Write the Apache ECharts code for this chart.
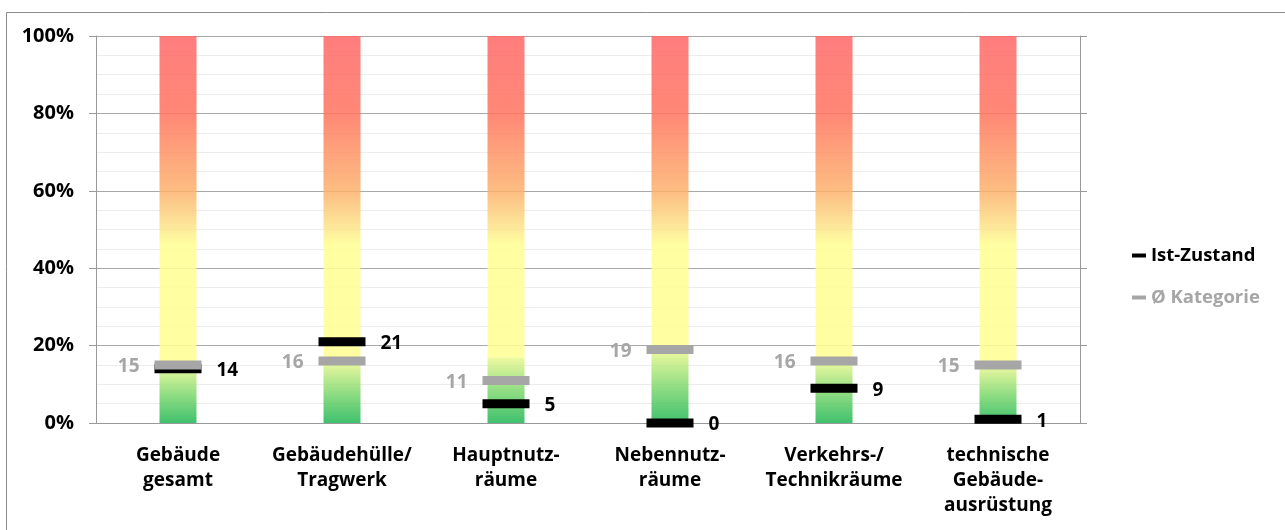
<!DOCTYPE html>
<html>
<head>
<meta charset="utf-8">
<script src="https://cdn.jsdelivr.net/npm/echarts@6/dist/echarts.min.js"></script>
<style>
  html, body { margin: 0; padding: 0; background: #fff; }
  #chart { width: 1285px; height: 530px; }
</style>
</head>
<body>
<div id="chart"></div>
<script>
// Kategorien (x-Achse)
const categories = [
  'Gebäude\ngesamt',
  'Gebäudehülle/\nTragwerk',
  'Hauptnutz-\nräume',
  'Nebennutz-\nräume',
  'Verkehrs-/\nTechnikräume',
  'technische\nGebäude-\nausrüstung'
]
// Ist-Zustand und Durchschnitt der Kategorie in %
const istZustand = [14, 21, 5, 0, 9, 1]
const katDurchschnitt = [15, 16, 11, 19, 16, 15]
// Farbband: grün bis greenTop, gelb bis yellowTop, dann bis 100 rot
const greenTop = [15, 16, 17, 19, 16, 15]
const yellowTop = [46, 46, 46, 46, 46, 46]
const yTicks = [0, 20, 40, 60, 80, 100]

const font = 'Open Sans'
const grey = '#a6a6a6'

const greenPart = greenTop
const yellowPart = yellowTop.map((v, i) => v - greenTop[i])
const redPart = yellowTop.map(v => 100 - v)

const chart = echarts.init(document.getElementById('chart'))

const barBase = {
  type: 'bar',
  stack: 'band',
  barWidth: 37,
  silent: true,
  z: 2
}

const option = {
  animation: false,
  textStyle: { fontFamily: font },
  graphic: [
    {
      type: 'rect',
      shape: { x: 6.5, y: 12.5, width: 1300, height: 560 },
      style: { fill: 'none', stroke: '#8c8c8c', lineWidth: 1 },
      silent: true
    }
  ],
  grid: { left: 96, top: 36, right: 205, bottom: 107 },
  legend: {
    orient: 'vertical',
    left: 1127,
    top: 241,
    itemGap: 23,
    itemWidth: 14,
    itemHeight: 4,
    icon: 'rect',
    textStyle: { fontFamily: font, fontSize: 18.5, fontWeight: 'bold' },
    data: [
      { name: 'Ist-Zustand', textStyle: { color: '#000' } },
      { name: 'Ø Kategorie', textStyle: { color: grey } }
    ]
  },
  xAxis: {
    type: 'category',
    data: categories,
    axisLine: { lineStyle: { color: '#999', width: 1 } },
    axisTick: { length: 7, lineStyle: { color: '#999' } },
    axisLabel: {
      color: '#000',
      fontFamily: font,
      fontSize: 19,
      fontWeight: 'bold',
      lineHeight: 25,
      margin: 20,
      interval: 0
    }
  },
  yAxis: [
    {
      type: 'value',
      min: yTicks[0],
      max: yTicks[yTicks.length - 1],
      interval: 20,
      axisLine: { show: true, lineStyle: { color: '#999' } },
      axisTick: { show: true, length: 7, lineStyle: { color: '#999' } },
      axisLabel: {
        formatter: '{value}%',
        color: '#000',
        fontFamily: font,
        fontSize: 20,
        fontWeight: 'bold',
        margin: 22
      },
      splitLine: { lineStyle: { color: '#a8a8a8' } },
      minorSplitLine: { show: true, lineStyle: { color: '#ececec' } },
      minorTick: { show: false, splitNumber: 4 }
    },
    {
      type: 'value',
      position: 'right',
      min: 0,
      max: 100,
      interval: 20,
      axisLine: { show: true, lineStyle: { color: '#999' } },
      axisTick: { show: true, length: 7, lineStyle: { color: '#999' } },
      axisLabel: { show: false },
      splitLine: { show: false }
    }
  ],
  series: [
    {
      ...barBase,
      name: 'gruen',
      data: greenPart,
      itemStyle: {
        opacity: 0.86,
        color: new echarts.graphic.LinearGradient(0, 0, 0, 1, [
          { offset: 0, color: '#ecf891' },
          { offset: 0.5, color: '#81d86f' },
          { offset: 1, color: '#21b656' }
        ])
      }
    },
    {
      ...barBase,
      name: 'gelb',
      data: yellowPart,
      itemStyle: { opacity: 0.86, color: '#ffff91' }
    },
    {
      ...barBase,
      name: 'rot',
      data: redPart,
      itemStyle: {
        opacity: 0.86,
        color: new echarts.graphic.LinearGradient(0, 0, 0, 1, [
          { offset: 0, color: '#ff6868' },
          { offset: 0.37, color: '#ff745f' },
          { offset: 0.74, color: '#fcb16d' },
          { offset: 0.92, color: '#fce58a' },
          { offset: 1, color: '#ffff91' }
        ])
      }
    },
    {
      type: 'scatter',
      name: 'Ist-Zustand',
      data: istZustand,
      symbol: 'rect',
      symbolSize: [47, 9],
      z: 5,
      itemStyle: { color: '#000', opacity: 1 },
      label: {
        show: true,
        position: 'right',
        distance: 15,
        offset: [0, 2],
        formatter: p => p.value,
        color: '#000',
        fontFamily: font,
        fontSize: 19,
        fontWeight: 'bold'
      }
    },
    {
      type: 'scatter',
      name: 'Ø Kategorie',
      data: katDurchschnitt,
      symbol: 'rect',
      symbolSize: [47, 9],
      z: 6,
      itemStyle: { color: grey, opacity: 1 },
      label: {
        show: true,
        position: 'left',
        distance: 15,
        offset: [0, 2],
        formatter: p => p.value,
        color: grey,
        fontFamily: font,
        fontSize: 19,
        fontWeight: 'bold'
      }
    }
  ]
}

chart.setOption(option)
</script>
</body>
</html>
